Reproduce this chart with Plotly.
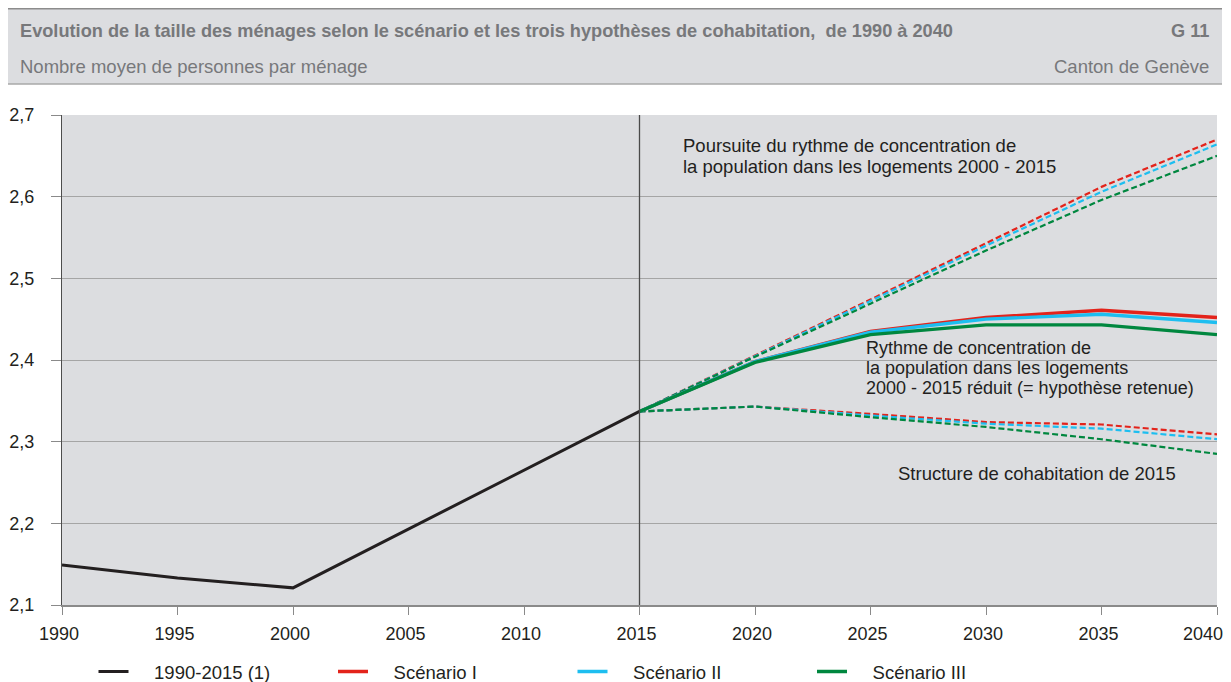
import plotly.graph_objects as go

# ── Données ──────────────────────────────────────────────────────────────────

ANNEES_HIST = [1990, 1995, 2000, 2005, 2010, 2015]
HIST = [2.149, 2.133, 2.121, 2.193, 2.265, 2.337]

ANNEES_PROJ = [2015, 2020, 2025, 2030, 2035, 2040]

# hypothèse retenue (traits pleins)
RETENUE_I = [2.337, 2.398, 2.435, 2.452, 2.461, 2.452]
RETENUE_II = [2.337, 2.398, 2.434, 2.450, 2.456, 2.446]
RETENUE_III = [2.337, 2.397, 2.431, 2.443, 2.443, 2.431]

# poursuite du rythme 2000-2015 (tirets, en haut)
POURSUITE_I = [2.337, 2.405, 2.474, 2.543, 2.612, 2.670]
POURSUITE_II = [2.337, 2.405, 2.473, 2.540, 2.606, 2.664]
POURSUITE_III = [2.337, 2.404, 2.469, 2.534, 2.596, 2.650]

# structure de cohabitation de 2015 (tirets, en bas)
STRUCTURE_I = [2.337, 2.343, 2.334, 2.324, 2.321, 2.309]
STRUCTURE_II = [2.337, 2.343, 2.332, 2.322, 2.316, 2.303]
STRUCTURE_III = [2.337, 2.343, 2.330, 2.318, 2.303, 2.285]

X_TICKS = [1990, 1995, 2000, 2005, 2010, 2015, 2020, 2025, 2030, 2035, 2040]
X_LABELS = [str(a) for a in X_TICKS]
Y_TICKS = [2.1, 2.2, 2.3, 2.4, 2.5, 2.6, 2.7]

NOMS = ["Scénario I", "Scénario II", "Scénario III"]
NOM_HIST = "1990-2015 (1)"
COULEURS = ["#e3231b", "#1dbef0", "#00873f"]
NOIR = "#231f20"
GRIS_TXT = "#77787b"
FOND = "#dcdde0"
POLICE = "Liberation Sans, Arial, sans-serif"
ESPACE = "\u00a0" * 4

# ── Figure ───────────────────────────────────────────────────────────────────

fig = go.Figure()

for serie, coul in zip([POURSUITE_I, POURSUITE_II, POURSUITE_III], COULEURS):
    fig.add_trace(go.Scatter(x=ANNEES_PROJ, y=serie, mode="lines", showlegend=False,
                             line=dict(color=coul, width=2.2, dash="6px,3px")))

for serie, coul in zip([STRUCTURE_I, STRUCTURE_II, STRUCTURE_III], COULEURS):
    fig.add_trace(go.Scatter(x=ANNEES_PROJ, y=serie, mode="lines", showlegend=False,
                             line=dict(color=coul, width=2.2, dash="6px,3px")))

for i, (serie, coul, nom) in enumerate(zip([RETENUE_I, RETENUE_II, RETENUE_III], COULEURS, NOMS)):
    fig.add_trace(go.Scatter(x=ANNEES_PROJ, y=serie, mode="lines", name=ESPACE + nom,
                             legendrank=2 + i, line=dict(color=coul, width=3.4)))

fig.add_trace(go.Scatter(x=ANNEES_HIST, y=HIST, mode="lines", name=ESPACE + NOM_HIST,
                         legendrank=1, line=dict(color=NOIR, width=3)))

# ── Mise en page (coordonnées en px de la figure) ────────────────────────────

FIG_W, FIG_H = 1223, 674
L, T, W, H = 54, 107, 1155, 490


def px(x):
    return (x - L) / W


def py(y):
    return (T + H - y) / H


shapes = [
    dict(type="rect", xref="paper", yref="paper", x0=px(0), x1=px(1214), y0=py(76), y1=py(0),
         fillcolor=FOND, line=dict(width=0), layer="below"),
    dict(type="line", xref="paper", yref="paper", x0=px(0), x1=px(1214), y0=py(0.8), y1=py(0.8),
         line=dict(color="#8c8c8c", width=1.6)),
    dict(type="line", xref="paper", yref="paper", x0=px(0), x1=px(1214), y0=py(76), y1=py(76),
         line=dict(color="#a8a8a8", width=1.6)),
    # ligne verticale 2015
    dict(type="line", xref="x", yref="paper", x0=2015, x1=2015, y0=0, y1=1,
         line=dict(color="#4a4a4a", width=1.3)),
]

TXT = dict(size=18.5, color=NOIR)
TXT_SERRE = dict(size=18, color=NOIR)

annotations = [
    dict(text="<b>Evolution de la taille des ménages selon le scénario et les trois hypothèses "
              "de cohabitation,  de 1990 à 2040</b>",
         x=px(10), y=py(23), xanchor="left", font=dict(size=18.2, color=GRIS_TXT)),
    dict(text="<b>G 11</b>", x=px(1203), y=py(23), xanchor="right",
         font=dict(size=18.2, color=GRIS_TXT)),
    dict(text="Nombre moyen de personnes par ménage", x=px(10), y=py(59),
         xanchor="left", font=dict(size=18.5, color=GRIS_TXT)),
    dict(text="Canton de Genève", x=px(1203), y=py(59), xanchor="right",
         font=dict(size=18.5, color=GRIS_TXT)),
    # libellés des hypothèses
    dict(text="Poursuite du rythme de concentration de", x=px(673), y=py(137.5),
         xanchor="left", font=TXT),
    dict(text="la population dans les logements 2000 - 2015", x=px(673), y=py(158.5),
         xanchor="left", font=TXT),
    dict(text="Rythme de concentration de", x=px(856), y=py(339.5), xanchor="left",
         font=TXT_SERRE),
    dict(text="la population dans les logements", x=px(856), y=py(359.8), xanchor="left",
         font=TXT_SERRE),
    dict(text="2000 - 2015 réduit (= hypothèse retenue)", x=px(856), y=py(380.1),
         xanchor="left", font=TXT_SERRE),
    dict(text="Structure de cohabitation de 2015", x=px(888), y=py(465), xanchor="left",
         font=TXT),
]

for a in annotations:
    a.update(xref="paper", yref="paper", yanchor="middle", showarrow=False)

# dernier libellé de l'axe x, poussé à gauche pour rester dans la fenêtre
annotations.append(dict(text=X_LABELS[-1], x=X_TICKS[-1], xref="x", y=0, yref="paper",
                        xanchor="right", yanchor="top", xshift=8, yshift=-16.5,
                        showarrow=False, font=dict(size=18, color=NOIR)))

fig.update_layout(
    width=FIG_W, height=FIG_H,
    margin=dict(l=L, r=FIG_W - L - W, t=T, b=FIG_H - T - H, autoexpand=False),
    paper_bgcolor="white",
    plot_bgcolor=FOND,
    separators=", ",
    font=dict(family=POLICE, size=18, color=NOIR),
    xaxis=dict(range=[1990, 2040], tickvals=X_TICKS, ticktext=X_LABELS[:-1] + [""],
               showgrid=False, zeroline=False,
               showline=True, linecolor="#8a8a8a", linewidth=1.5,
               ticks="outside", ticklen=8, tickcolor="#8a8a8a", tickwidth=1.3,
               ticklabelstandoff=4, ticklabelshift=-3,
               tickfont=dict(size=18, color=NOIR)),
    yaxis=dict(range=[2.1, 2.7], tickvals=Y_TICKS, tickformat=".1f", showgrid=True,
               gridcolor="#a5a5a5", gridwidth=1.2, zeroline=False,
               showline=True, linecolor="#4d4d4d", linewidth=1.3,
               ticks="outside", ticklen=10, tickcolor="#8a8a8a", tickwidth=1.3,
               ticklabelstandoff=13, tickfont=dict(size=18, color=NOIR)),
    legend=dict(orientation="h", x=px(85.5), y=py(664), xanchor="left", yanchor="middle",
                entrywidth=194.5, entrywidthmode="pixels", tracegroupgap=0,
                font=dict(size=18.5, color=NOIR), bgcolor="rgba(0,0,0,0)"),
    shapes=shapes,
    annotations=annotations,
)

fig.write_html("out.html")
